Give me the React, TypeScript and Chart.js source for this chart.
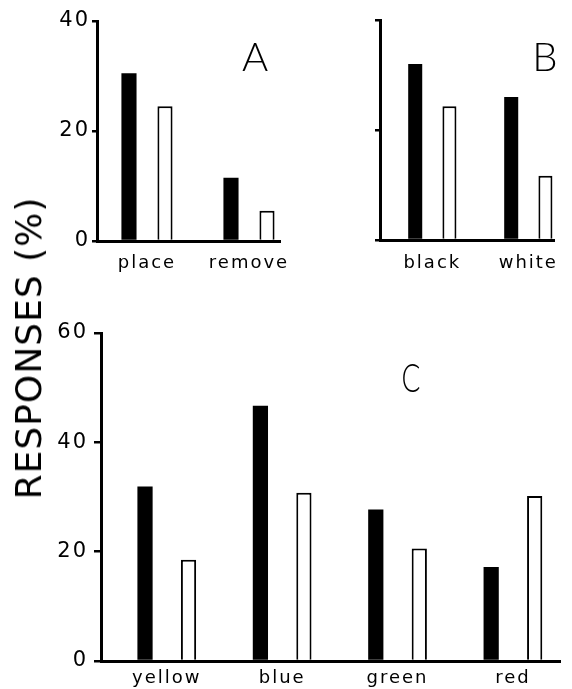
import React, { useEffect, useRef } from "react";
import { Chart, registerables } from "chart.js";

Chart.register(...registerables);

// ---------- data ----------
const aCategories = ["place", "remove"];
const aBlack = [30.5, 11.5];
const aWhite = [24.5, 5.5];

const bCategories = ["black", "white"];
const bBlack = [32.0, 26.0];
const bWhite = [24.3, 11.7];

const cCategories = ["yellow", "blue", "green", "red"];
const cBlack = [31.9, 46.7, 27.7, 17.2];
const cWhite = [18.5, 30.8, 20.6, 30.2];

const yTitle = "RESPONSES (%)";

// ---------- layout ----------
const W = 572;
const H = 689;
const YW = 60; // fixed y-axis box width
const X_FONT = { family: "DejaVu Sans", size: 18 };
const Y_FONT = { family: "DejaVu Sans", size: 21 };

type Panel = {
  cats: string[];
  black: number[];
  white: number[];
  yMax: number;
  yLabels: boolean;
  left: number;
  right: number;
  top: number;
  bottom: number;
  min: number;
  max: number;
  catPct: number;
  barPct: number;
  xPad: number;
  xH: number;
  yPad: number;
  tickLen: number;
};

const panels: Panel[] = [
  {
    cats: aCategories, black: aBlack, white: aWhite, yMax: 40, yLabels: true,
    left: 97, right: 280, top: 21, bottom: 241, min: -0.49, max: 1.304,
    catPct: 0.706, barPct: 0.42, xPad: 12, xH: 42, yPad: 2, tickLen: 5,
  },
  {
    cats: bCategories, black: bBlack, white: bWhite, yMax: 40, yLabels: false,
    left: 380, right: 565, top: 20, bottom: 240, min: -0.545, max: 1.273,
    catPct: 0.713, barPct: 0.41, xPad: 13, xH: 42, yPad: 2, tickLen: 5,
  },
  {
    cats: cCategories, black: cBlack, white: cWhite, yMax: 60, yLabels: true,
    left: 101, right: 560, top: 333, bottom: 661, min: -0.57, max: 3.408,
    catPct: 0.754, barPct: 0.35, xPad: 7, xH: 28, yPad: 6, tickLen: 7,
  },
];

const spacingPlugin = {
  id: "letterSpacing",
  beforeLayout(chart: any) {
    chart.ctx.letterSpacing = "2px";
  },
  beforeDraw(chart: any) {
    chart.ctx.letterSpacing = "2px";
  },
};

function makeChart(canvas: HTMLCanvasElement, p: Panel) {
  return new Chart(canvas, {
    type: "bar",
    data: {
      datasets: [
        {
          data: p.black.map((v, i) => ({ x: i, y: v })),
          backgroundColor: "#000",
          borderWidth: 0,
          categoryPercentage: p.catPct,
          barPercentage: p.barPct,
        },
        {
          data: p.white.map((v, i) => ({ x: i, y: v })),
          backgroundColor: "#fff",
          borderColor: "#000",
          borderWidth: 2,
          categoryPercentage: p.catPct,
          barPercentage: p.barPct,
        },
      ],
    } as any,
    options: {
      responsive: false,
      animation: false,
      devicePixelRatio: 1,
      layout: {
        padding: {
          left: p.left - YW,
          right: W - p.right,
          top: p.top,
          bottom: Math.max(0, H - p.bottom - p.xH),
        },
      },
      plugins: {
        legend: { display: false },
        tooltip: { enabled: false },
        title: { display: false },
      },
      scales: {
        x: {
          type: "linear",
          min: p.min,
          max: p.max,
          offset: false,
          bounds: "data",
          afterBuildTicks: (s: any) => {
            s.ticks = p.cats.map((_, i) => ({ value: i }));
          },
          afterFit: (s: any) => {
            s.height = p.xH;
          },
          grid: { display: false, drawTicks: false, offset: false },
          border: { display: true, color: "#000", width: 3, z: 1 },
          ticks: {
            color: "#000",
            font: X_FONT,
            padding: p.xPad,
            maxRotation: 0,
            autoSkip: false,
            callback: (v: any) => p.cats[v] ?? "",
          },
        },
        y: {
          type: "linear",
          min: 0,
          max: p.yMax,
          afterFit: (s: any) => {
            s.width = YW;
          },
          ticks: {
            stepSize: 20,
            display: p.yLabels,
            color: "#000",
            font: Y_FONT,
            padding: p.yPad,
          },
          grid: {
            drawOnChartArea: false,
            drawTicks: true,
            tickLength: p.tickLen,
            color: "#000",
            lineWidth: 2.5,
          },
          border: { display: true, color: "#000", width: 3, z: 1 },
        },
      },
    } as any,
    plugins: [spacingPlugin],
  });
}

export default function App() {
  const r0 = useRef<HTMLCanvasElement>(null);
  const r1 = useRef<HTMLCanvasElement>(null);
  const r2 = useRef<HTMLCanvasElement>(null);

  useEffect(() => {
    const refs = [r0, r1, r2];
    const charts = panels.map((p, i) => makeChart(refs[i].current!, p));
    return () => charts.forEach((c) => c.destroy());
  }, []);

  const canvasStyle: React.CSSProperties = {
    position: "absolute",
    left: 0,
    top: 0,
    width: W,
    height: H,
  };
  const letterStyle: React.CSSProperties = {
    position: "absolute",
    fontFamily: "Lato, 'DejaVu Sans', sans-serif",
    fontWeight: 300,
    fontSize: 40,
    lineHeight: "40px",
    color: "#000",
    transform: "translate(-50%, -50%)",
    whiteSpace: "nowrap",
  };

  return (
    <div
      style={{
        position: "absolute",
        left: 0,
        top: 0,
        width: W,
        height: H,
        background: "#fff",
        overflow: "hidden",
      }}
    >
      <canvas ref={r0} width={W} height={H} style={canvasStyle} />
      <canvas ref={r1} width={W} height={H} style={canvasStyle} />
      <canvas ref={r2} width={W} height={H} style={canvasStyle} />
      <div
        style={{
          position: "absolute",
          left: 29,
          top: 348,
          transform: "translate(-50%, -50%) rotate(-90deg)",
          fontFamily: "'DejaVu Sans', sans-serif",
          fontSize: 36,
          lineHeight: "36px",
          letterSpacing: "1px",
          whiteSpace: "nowrap",
          color: "#000",
        }}
      >
        {yTitle}
      </div>
      <div style={{ ...letterStyle, left: 255, top: 56 }}>A</div>
      <div style={{ ...letterStyle, left: 545, top: 56 }}>B</div>
      <div style={{ ...letterStyle, left: 411, top: 377, transform: "translate(-50%, -50%) scaleX(0.7)" }}>C</div>
    </div>
  );
}
